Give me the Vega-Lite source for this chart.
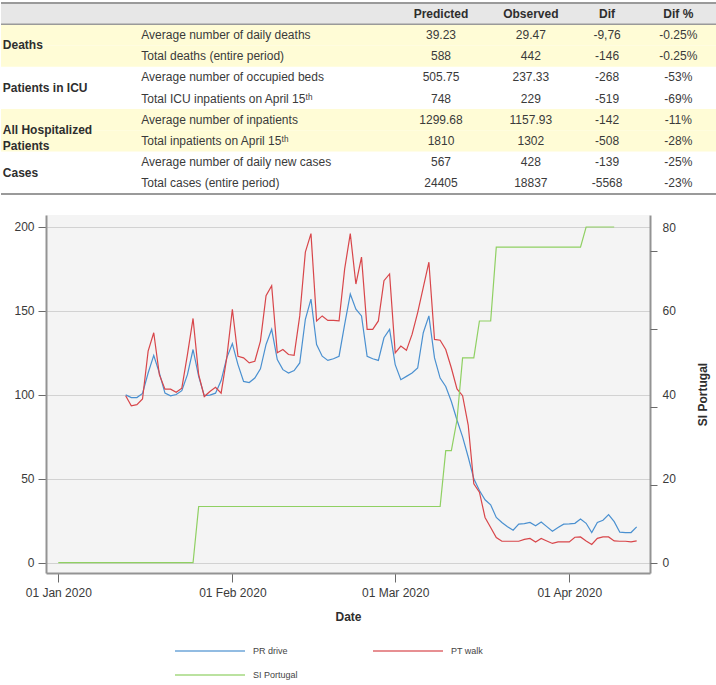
{
  "$schema": "https://vega.github.io/schema/vega-lite/v6.json",
  "padding": 0,
  "spacing": 19,
  "background": "white",
  "config": {
    "font": "Liberation Sans",
    "view": {"stroke": null}
  },
  "resolve": {"scale": {"color": "independent"}, "legend": {"color": "independent"}},
  "datasets": {
    "table": [
      {"row": 1, "group": "Deaths", "desc": "Average number of daily deaths", "Predicted": "39.23", "Observed": "29.47", "Dif": "-9,76", "Dif %": "-0.25%"},
      {"row": 2, "group": "Deaths", "desc": "Total deaths (entire period)", "Predicted": "588", "Observed": "442", "Dif": "-146", "Dif %": "-0.25%"},
      {"row": 3, "group": "Patients in ICU", "desc": "Average number of occupied beds", "Predicted": "505.75", "Observed": "237.33", "Dif": "-268", "Dif %": "-53%"},
      {"row": 4, "group": "Patients in ICU", "desc": "Total ICU inpatients on April 15ᵗʰ", "Predicted": "748", "Observed": "229", "Dif": "-519", "Dif %": "-69%"},
      {"row": 5, "group": "All Hospitalized Patients", "desc": "Average number of inpatients", "Predicted": "1299.68", "Observed": "1157.93", "Dif": "-142", "Dif %": "-11%"},
      {"row": 6, "group": "All Hospitalized Patients", "desc": "Total inpatients on April 15ᵗʰ", "Predicted": "1810", "Observed": "1302", "Dif": "-508", "Dif %": "-28%"},
      {"row": 7, "group": "Cases", "desc": "Average number of daily new cases", "Predicted": "567", "Observed": "428", "Dif": "-139", "Dif %": "-25%"},
      {"row": 8, "group": "Cases", "desc": "Total cases (entire period)", "Predicted": "24405", "Observed": "18837", "Dif": "-5568", "Dif %": "-23%"}
    ],
    "groups": [
      {"row": 1, "label": "Deaths"},
      {"row": 3, "label": "Patients in ICU"},
      {"row": 5, "label": "All Hospitalized\nPatients"},
      {"row": 7, "label": "Cases"}
    ],
    "headers": [
      {"col": "Predicted"}, {"col": "Observed"}, {"col": "Dif"}, {"col": "Dif %"}
    ],
    "mobility": [
      {"date": "2020-01-13", "PR drive": 100, "PT walk": 99.5},
      {"date": "2020-01-14", "PR drive": 98.4, "PT walk": 93.5},
      {"date": "2020-01-15", "PR drive": 98.4, "PT walk": 94.2},
      {"date": "2020-01-16", "PR drive": 100.8, "PT walk": 97.5},
      {"date": "2020-01-17", "PR drive": 113, "PT walk": 126},
      {"date": "2020-01-18", "PR drive": 123.5, "PT walk": 137},
      {"date": "2020-01-19", "PR drive": 113, "PT walk": 112},
      {"date": "2020-01-20", "PR drive": 101, "PT walk": 103.4},
      {"date": "2020-01-21", "PR drive": 99.4, "PT walk": 103.4},
      {"date": "2020-01-22", "PR drive": 100.2, "PT walk": 101.5},
      {"date": "2020-01-23", "PR drive": 102.5, "PT walk": 104},
      {"date": "2020-01-24", "PR drive": 112, "PT walk": 124},
      {"date": "2020-01-25", "PR drive": 127, "PT walk": 145.5},
      {"date": "2020-01-26", "PR drive": 111, "PT walk": 112},
      {"date": "2020-01-27", "PR drive": 99.5, "PT walk": 99},
      {"date": "2020-01-28", "PR drive": 99.8, "PT walk": 102},
      {"date": "2020-01-29", "PR drive": 101, "PT walk": 104.5},
      {"date": "2020-01-30", "PR drive": 108.5, "PT walk": 101},
      {"date": "2020-01-31", "PR drive": 122, "PT walk": 122},
      {"date": "2020-02-01", "PR drive": 130.5, "PT walk": 151},
      {"date": "2020-02-02", "PR drive": 118, "PT walk": 123},
      {"date": "2020-02-03", "PR drive": 108, "PT walk": 122},
      {"date": "2020-02-04", "PR drive": 107.3, "PT walk": 119},
      {"date": "2020-02-05", "PR drive": 110, "PT walk": 120},
      {"date": "2020-02-06", "PR drive": 115.5, "PT walk": 132},
      {"date": "2020-02-07", "PR drive": 130, "PT walk": 159},
      {"date": "2020-02-08", "PR drive": 139, "PT walk": 165},
      {"date": "2020-02-09", "PR drive": 121, "PT walk": 125},
      {"date": "2020-02-10", "PR drive": 115, "PT walk": 127},
      {"date": "2020-02-11", "PR drive": 113, "PT walk": 124},
      {"date": "2020-02-12", "PR drive": 114.5, "PT walk": 123.5},
      {"date": "2020-02-13", "PR drive": 119, "PT walk": 147},
      {"date": "2020-02-14", "PR drive": 145, "PT walk": 185},
      {"date": "2020-02-15", "PR drive": 157, "PT walk": 196},
      {"date": "2020-02-16", "PR drive": 130, "PT walk": 144},
      {"date": "2020-02-17", "PR drive": 123, "PT walk": 147},
      {"date": "2020-02-18", "PR drive": 120.5, "PT walk": 144.3},
      {"date": "2020-02-19", "PR drive": 121.5, "PT walk": 144.3},
      {"date": "2020-02-20", "PR drive": 123, "PT walk": 144},
      {"date": "2020-02-21", "PR drive": 142, "PT walk": 175},
      {"date": "2020-02-22", "PR drive": 160, "PT walk": 196},
      {"date": "2020-02-23", "PR drive": 151, "PT walk": 166},
      {"date": "2020-02-24", "PR drive": 147, "PT walk": 182},
      {"date": "2020-02-25", "PR drive": 123, "PT walk": 139},
      {"date": "2020-02-26", "PR drive": 121.5, "PT walk": 139},
      {"date": "2020-02-27", "PR drive": 120.5, "PT walk": 144},
      {"date": "2020-02-28", "PR drive": 134, "PT walk": 168},
      {"date": "2020-02-29", "PR drive": 139, "PT walk": 172},
      {"date": "2020-03-01", "PR drive": 118, "PT walk": 125},
      {"date": "2020-03-02", "PR drive": 109, "PT walk": 129},
      {"date": "2020-03-03", "PR drive": 111, "PT walk": 126.5},
      {"date": "2020-03-04", "PR drive": 113, "PT walk": 136},
      {"date": "2020-03-05", "PR drive": 116, "PT walk": 149},
      {"date": "2020-03-06", "PR drive": 137, "PT walk": 164},
      {"date": "2020-03-07", "PR drive": 147, "PT walk": 179},
      {"date": "2020-03-08", "PR drive": 122, "PT walk": 133},
      {"date": "2020-03-09", "PR drive": 110, "PT walk": 132.5},
      {"date": "2020-03-10", "PR drive": 105, "PT walk": 127},
      {"date": "2020-03-11", "PR drive": 96, "PT walk": 116},
      {"date": "2020-03-12", "PR drive": 85, "PT walk": 103.5},
      {"date": "2020-03-13", "PR drive": 75, "PT walk": 99.5},
      {"date": "2020-03-14", "PR drive": 63, "PT walk": 82},
      {"date": "2020-03-15", "PR drive": 50, "PT walk": 47},
      {"date": "2020-03-16", "PR drive": 43, "PT walk": 42},
      {"date": "2020-03-17", "PR drive": 37.5, "PT walk": 27},
      {"date": "2020-03-18", "PR drive": 34.5, "PT walk": 21},
      {"date": "2020-03-19", "PR drive": 27, "PT walk": 15},
      {"date": "2020-03-20", "PR drive": 24, "PT walk": 12.8},
      {"date": "2020-03-21", "PR drive": 21.5, "PT walk": 12.8},
      {"date": "2020-03-22", "PR drive": 19.4, "PT walk": 12.8},
      {"date": "2020-03-23", "PR drive": 23, "PT walk": 12.8},
      {"date": "2020-03-24", "PR drive": 23.3, "PT walk": 13.9},
      {"date": "2020-03-25", "PR drive": 24, "PT walk": 14.5},
      {"date": "2020-03-26", "PR drive": 22, "PT walk": 12.4},
      {"date": "2020-03-27", "PR drive": 24.3, "PT walk": 14.5},
      {"date": "2020-03-28", "PR drive": 21.5, "PT walk": 13},
      {"date": "2020-03-29", "PR drive": 18.8, "PT walk": 11.5},
      {"date": "2020-03-30", "PR drive": 21, "PT walk": 12.4},
      {"date": "2020-03-31", "PR drive": 23, "PT walk": 12.4},
      {"date": "2020-04-01", "PR drive": 23.2, "PT walk": 12.4},
      {"date": "2020-04-02", "PR drive": 23.5, "PT walk": 15.2},
      {"date": "2020-04-03", "PR drive": 26, "PT walk": 15.4},
      {"date": "2020-04-04", "PR drive": 23.5, "PT walk": 13},
      {"date": "2020-04-05", "PR drive": 18, "PT walk": 10.9},
      {"date": "2020-04-06", "PR drive": 24, "PT walk": 14.5},
      {"date": "2020-04-07", "PR drive": 25.3, "PT walk": 15.4},
      {"date": "2020-04-08", "PR drive": 28.7, "PT walk": 15.4},
      {"date": "2020-04-09", "PR drive": 24.5, "PT walk": 13},
      {"date": "2020-04-10", "PR drive": 18.2, "PT walk": 12.8},
      {"date": "2020-04-11", "PR drive": 18, "PT walk": 12.8},
      {"date": "2020-04-12", "PR drive": 18, "PT walk": 12.4},
      {"date": "2020-04-13", "PR drive": 21.4, "PT walk": 13}
    ],
    "si": [
      {"date": "2020-01-01", "SI Portugal": 0},
      {"date": "2020-01-02", "SI Portugal": 0},
      {"date": "2020-01-03", "SI Portugal": 0},
      {"date": "2020-01-04", "SI Portugal": 0},
      {"date": "2020-01-05", "SI Portugal": 0},
      {"date": "2020-01-06", "SI Portugal": 0},
      {"date": "2020-01-07", "SI Portugal": 0},
      {"date": "2020-01-08", "SI Portugal": 0},
      {"date": "2020-01-09", "SI Portugal": 0},
      {"date": "2020-01-10", "SI Portugal": 0},
      {"date": "2020-01-11", "SI Portugal": 0},
      {"date": "2020-01-12", "SI Portugal": 0},
      {"date": "2020-01-13", "SI Portugal": 0},
      {"date": "2020-01-14", "SI Portugal": 0},
      {"date": "2020-01-15", "SI Portugal": 0},
      {"date": "2020-01-16", "SI Portugal": 0},
      {"date": "2020-01-17", "SI Portugal": 0},
      {"date": "2020-01-18", "SI Portugal": 0},
      {"date": "2020-01-19", "SI Portugal": 0},
      {"date": "2020-01-20", "SI Portugal": 0},
      {"date": "2020-01-21", "SI Portugal": 0},
      {"date": "2020-01-22", "SI Portugal": 0},
      {"date": "2020-01-23", "SI Portugal": 0},
      {"date": "2020-01-24", "SI Portugal": 0},
      {"date": "2020-01-25", "SI Portugal": 0},
      {"date": "2020-01-26", "SI Portugal": 13.4},
      {"date": "2020-01-27", "SI Portugal": 13.4},
      {"date": "2020-01-28", "SI Portugal": 13.4},
      {"date": "2020-01-29", "SI Portugal": 13.4},
      {"date": "2020-01-30", "SI Portugal": 13.4},
      {"date": "2020-01-31", "SI Portugal": 13.4},
      {"date": "2020-02-01", "SI Portugal": 13.4},
      {"date": "2020-02-02", "SI Portugal": 13.4},
      {"date": "2020-02-03", "SI Portugal": 13.4},
      {"date": "2020-02-04", "SI Portugal": 13.4},
      {"date": "2020-02-05", "SI Portugal": 13.4},
      {"date": "2020-02-06", "SI Portugal": 13.4},
      {"date": "2020-02-07", "SI Portugal": 13.4},
      {"date": "2020-02-08", "SI Portugal": 13.4},
      {"date": "2020-02-09", "SI Portugal": 13.4},
      {"date": "2020-02-10", "SI Portugal": 13.4},
      {"date": "2020-02-11", "SI Portugal": 13.4},
      {"date": "2020-02-12", "SI Portugal": 13.4},
      {"date": "2020-02-13", "SI Portugal": 13.4},
      {"date": "2020-02-14", "SI Portugal": 13.4},
      {"date": "2020-02-15", "SI Portugal": 13.4},
      {"date": "2020-02-16", "SI Portugal": 13.4},
      {"date": "2020-02-17", "SI Portugal": 13.4},
      {"date": "2020-02-18", "SI Portugal": 13.4},
      {"date": "2020-02-19", "SI Portugal": 13.4},
      {"date": "2020-02-20", "SI Portugal": 13.4},
      {"date": "2020-02-21", "SI Portugal": 13.4},
      {"date": "2020-02-22", "SI Portugal": 13.4},
      {"date": "2020-02-23", "SI Portugal": 13.4},
      {"date": "2020-02-24", "SI Portugal": 13.4},
      {"date": "2020-02-25", "SI Portugal": 13.4},
      {"date": "2020-02-26", "SI Portugal": 13.4},
      {"date": "2020-02-27", "SI Portugal": 13.4},
      {"date": "2020-02-28", "SI Portugal": 13.4},
      {"date": "2020-02-29", "SI Portugal": 13.4},
      {"date": "2020-03-01", "SI Portugal": 13.4},
      {"date": "2020-03-02", "SI Portugal": 13.4},
      {"date": "2020-03-03", "SI Portugal": 13.4},
      {"date": "2020-03-04", "SI Portugal": 13.4},
      {"date": "2020-03-05", "SI Portugal": 13.4},
      {"date": "2020-03-06", "SI Portugal": 13.4},
      {"date": "2020-03-07", "SI Portugal": 13.4},
      {"date": "2020-03-08", "SI Portugal": 13.4},
      {"date": "2020-03-09", "SI Portugal": 13.4},
      {"date": "2020-03-10", "SI Portugal": 26.7},
      {"date": "2020-03-11", "SI Portugal": 26.7},
      {"date": "2020-03-12", "SI Portugal": 34},
      {"date": "2020-03-13", "SI Portugal": 48.8},
      {"date": "2020-03-14", "SI Portugal": 48.8},
      {"date": "2020-03-15", "SI Portugal": 48.8},
      {"date": "2020-03-16", "SI Portugal": 57.6},
      {"date": "2020-03-17", "SI Portugal": 57.6},
      {"date": "2020-03-18", "SI Portugal": 57.6},
      {"date": "2020-03-19", "SI Portugal": 75.2},
      {"date": "2020-03-20", "SI Portugal": 75.2},
      {"date": "2020-03-21", "SI Portugal": 75.2},
      {"date": "2020-03-22", "SI Portugal": 75.2},
      {"date": "2020-03-23", "SI Portugal": 75.2},
      {"date": "2020-03-24", "SI Portugal": 75.2},
      {"date": "2020-03-25", "SI Portugal": 75.2},
      {"date": "2020-03-26", "SI Portugal": 75.2},
      {"date": "2020-03-27", "SI Portugal": 75.2},
      {"date": "2020-03-28", "SI Portugal": 75.2},
      {"date": "2020-03-29", "SI Portugal": 75.2},
      {"date": "2020-03-30", "SI Portugal": 75.2},
      {"date": "2020-03-31", "SI Portugal": 75.2},
      {"date": "2020-04-01", "SI Portugal": 75.2},
      {"date": "2020-04-02", "SI Portugal": 75.2},
      {"date": "2020-04-03", "SI Portugal": 75.2},
      {"date": "2020-04-04", "SI Portugal": 80},
      {"date": "2020-04-05", "SI Portugal": 80},
      {"date": "2020-04-06", "SI Portugal": 80},
      {"date": "2020-04-07", "SI Portugal": 80},
      {"date": "2020-04-08", "SI Portugal": 80},
      {"date": "2020-04-09", "SI Portugal": 80}
    ]
  },
  "vconcat": [
    {
      "width": 671,
      "height": 196,
      "data": {"name": "table"},
      "layer": [
        {
          "transform": [{"filter": {"field": "group", "oneOf": ["Deaths", "All Hospitalized Patients"]}}],
          "mark": {"type": "rect", "color": "#fffcd6"},
          "encoding": {
            "x": {"datum": 0, "type": "quantitative", "scale": {"domain": [0, 100], "range": [-45, 671]}, "axis": null},
            "x2": {"datum": 100},
            "y": {"field": "row", "type": "ordinal", "scale": {"domain": [0, 1, 2, 3, 4, 5, 6, 7, 8], "range": [3, 194], "paddingInner": 0, "paddingOuter": 0}, "axis": null}
          }
        },
        {
          "data": {"name": "headers"},
          "transform": [{"filter": "datum.col === 'Predicted'"}],
          "mark": {"type": "rect", "color": "#e7e7e7"},
          "encoding": {
            "x": {"datum": 0, "type": "quantitative", "axis": null},
            "x2": {"datum": 100},
            "y": {"datum": 0, "type": "ordinal", "axis": null}
          }
        },
        {
          "data": {"name": "headers"},
          "transform": [{"filter": "datum.col === 'Predicted'"}],
          "mark": {"type": "rule", "color": "#9a9a9a", "strokeWidth": 2},
          "encoding": {
            "x": {"datum": 0, "type": "quantitative", "axis": null},
            "x2": {"datum": 100},
            "y": {"datum": 0, "type": "ordinal", "bandPosition": 0, "axis": null}
          }
        },
        {
          "data": {"name": "headers"},
          "transform": [{"filter": "datum.col === 'Predicted'"}],
          "mark": {"type": "rule", "color": "#9a9a9a", "strokeWidth": 1.5},
          "encoding": {
            "x": {"datum": 0, "type": "quantitative", "axis": null},
            "x2": {"datum": 100},
            "y": {"datum": 1, "type": "ordinal", "bandPosition": 0, "axis": null}
          }
        },
        {
          "data": {"name": "headers"},
          "transform": [{"filter": "datum.col === 'Predicted'"}],
          "mark": {"type": "rule", "color": "#9a9a9a", "strokeWidth": 2},
          "encoding": {
            "x": {"datum": 0, "type": "quantitative", "axis": null},
            "x2": {"datum": 100},
            "y": {"datum": 8, "type": "ordinal", "bandPosition": 1, "axis": null}
          }
        },
        {
          "data": {"name": "groups"},
          "mark": {"type": "text", "align": "left", "fontWeight": "bold", "fontSize": 12, "color": "#2e2e2e", "lineBreak": "\n", "lineHeight": 16},
          "encoding": {
            "x": {"datum": 0.25, "type": "quantitative", "axis": null},
            "y": {"field": "row", "type": "ordinal", "bandPosition": 1, "axis": null},
            "text": {"field": "label"}
          }
        },
        {
          "mark": {"type": "text", "align": "left", "fontSize": 12, "color": "#3a3a3a"},
          "encoding": {
            "x": {"datum": 19.6, "type": "quantitative", "axis": null},
            "y": {"field": "row", "type": "ordinal", "axis": null},
            "text": {"field": "desc"}
          }
        },
        {
          "mark": {"type": "text", "fontSize": 12, "color": "#3a3a3a"},
          "encoding": {
            "x": {"datum": 61.45, "type": "quantitative", "axis": null},
            "y": {"field": "row", "type": "ordinal", "axis": null},
            "text": {"field": "Predicted"}
          }
        },
        {
          "mark": {"type": "text", "fontSize": 12, "color": "#3a3a3a"},
          "encoding": {
            "x": {"datum": 74.0, "type": "quantitative", "axis": null},
            "y": {"field": "row", "type": "ordinal", "axis": null},
            "text": {"field": "Observed"}
          }
        },
        {
          "mark": {"type": "text", "fontSize": 12, "color": "#3a3a3a"},
          "encoding": {
            "x": {"datum": 84.65, "type": "quantitative", "axis": null},
            "y": {"field": "row", "type": "ordinal", "axis": null},
            "text": {"field": "Dif"}
          }
        },
        {
          "mark": {"type": "text", "fontSize": 12, "color": "#3a3a3a"},
          "encoding": {
            "x": {"datum": 94.6, "type": "quantitative", "axis": null},
            "y": {"field": "row", "type": "ordinal", "axis": null},
            "text": {"field": "Dif %"}
          }
        },
        {
          "data": {"name": "headers"},
          "transform": [{"filter": "datum.col === 'Predicted'"}],
          "mark": {"type": "text", "fontSize": 12, "fontWeight": "bold", "color": "#2e2e2e"},
          "encoding": {
            "x": {"datum": 61.45, "type": "quantitative", "axis": null},
            "y": {"datum": 0, "type": "ordinal", "axis": null},
            "text": {"field": "col"}
          }
        },
        {
          "data": {"name": "headers"},
          "transform": [{"filter": "datum.col === 'Observed'"}],
          "mark": {"type": "text", "fontSize": 12, "fontWeight": "bold", "color": "#2e2e2e"},
          "encoding": {
            "x": {"datum": 74.0, "type": "quantitative", "axis": null},
            "y": {"datum": 0, "type": "ordinal", "axis": null},
            "text": {"field": "col"}
          }
        },
        {
          "data": {"name": "headers"},
          "transform": [{"filter": "datum.col === 'Dif'"}],
          "mark": {"type": "text", "fontSize": 12, "fontWeight": "bold", "color": "#2e2e2e"},
          "encoding": {
            "x": {"datum": 84.65, "type": "quantitative", "axis": null},
            "y": {"datum": 0, "type": "ordinal", "axis": null},
            "text": {"field": "col"}
          }
        },
        {
          "data": {"name": "headers"},
          "transform": [{"filter": "datum.col === 'Dif %'"}],
          "mark": {"type": "text", "fontSize": 12, "fontWeight": "bold", "color": "#2e2e2e"},
          "encoding": {
            "x": {"datum": 94.6, "type": "quantitative", "axis": null},
            "y": {"datum": 0, "type": "ordinal", "axis": null},
            "text": {"field": "col"}
          }
        }
      ]
    },
    {
      "width": 604,
      "height": 358,
      "view": {"fill": "#f4f4f4", "stroke": null},
      "resolve": {"scale": {"y": "independent"}, "axis": {"y": "independent"}},
      "layer": [
        {
          "data": {"name": "mobility"},
          "transform": [{"fold": ["PR drive", "PT walk"], "as": ["series", "value"]}],
          "mark": {"type": "line", "strokeWidth": 1.2},
          "encoding": {
            "x": {
              "field": "date", "type": "temporal",
              "scale": {
                "type": "utc",
                "domain": [
                  {"year": 2019, "month": 12, "date": 29, "hours": 19, "minutes": 30, "utc": true},
                  {"year": 2020, "month": 4, "date": 15, "hours": 9, "utc": true}
                ]
              },
              "axis": {
                "values": [
                  {"year": 2020, "month": 1, "date": 1, "utc": true},
                  {"year": 2020, "month": 2, "date": 1, "utc": true},
                  {"year": 2020, "month": 3, "date": 1, "utc": true},
                  {"year": 2020, "month": 4, "date": 1, "utc": true}
                ],
                "format": "%d %b %Y",
                "grid": false,
                "tickSize": 9,
                "tickColor": "#6a6a6a",
                "domainColor": "#939393",
                "domainWidth": 2,
                "labelPadding": 5,
                "labelFontSize": 12,
                "labelColor": "#3a3a3a",
                "title": "Date",
                "titleFontSize": 12,
                "titleFontWeight": "bold",
                "titleColor": "#2e2e2e",
                "titlePadding": 13
              }
            },
            "y": {
              "field": "value", "type": "quantitative",
              "scale": {"domain": [-6.1, 207.1], "nice": false, "zero": false},
              "axis": {
                "orient": "left",
                "values": [0, 50, 100, 150, 200],
                "grid": true,
                "gridColor": "#d2d2d2",
                "tickSize": 8,
                "tickColor": "#6a6a6a",
                "domainColor": "#939393",
                "domainWidth": 2,
                "labelPadding": 4,
                "labelFontSize": 12,
                "labelColor": "#3a3a3a",
                "title": null,
                "minExtent": 45
              }
            },
            "color": {
              "field": "series", "type": "nominal",
              "scale": {"domain": ["PR drive", "PT walk", "SI Portugal"], "range": ["#4a90d0", "#d8464a", "#8fd062"]},
              "legend": {
                "orient": "none",
                "legendX": 153,
                "legendY": 425,
                "direction": "horizontal",
                "columns": 2,
                "title": null,
                "symbolType": "M-3.5,0L3.5,0",
                "symbolSize": 400,
                "symbolStrokeWidth": 2,
                "symbolOpacity": 0.6,
                "labelFontSize": 9,
                "labelColor": "#444444",
                "labelOffset": 32,
                "columnPadding": 71,
                "rowPadding": 8,
                "padding": 0
              }
            }
          }
        },
        {
          "data": {"name": "si"},
          "transform": [{"fold": ["SI Portugal"], "as": ["series", "value"]}],
          "mark": {"type": "line", "strokeWidth": 1.2},
          "encoding": {
            "x": {"field": "date", "type": "temporal"},
            "y": {
              "field": "value", "type": "quantitative",
              "scale": {"domain": [-2.45, 82.86], "nice": false, "zero": false},
              "axis": {
                "orient": "right",
                "values": [0, 20, 40, 60, 80],
                "ticks": false,
                "grid": false,
                "domainColor": "#939393",
                "domainWidth": 2,
                "labelPadding": 12,
                "labelFontSize": 12,
                "labelColor": "#3a3a3a",
                "title": "SI Portugal",
                "titleAngle": 270,
                "titleFontSize": 12,
                "titleFontWeight": "bold",
                "titleColor": "#2e2e2e",
                "titlePadding": 34
              }
            },
            "color": {
              "field": "series", "type": "nominal",
              "scale": {"domain": ["PR drive", "PT walk", "SI Portugal"], "range": ["#4a90d0", "#d8464a", "#8fd062"]}
            }
          }
        },
        {
          "data": {"name": "si"},
          "mark": {"type": "line", "strokeOpacity": 0},
          "encoding": {
            "x": {"field": "date", "type": "temporal"},
            "y": {
              "field": "SI Portugal", "type": "quantitative",
              "scale": {"domain": [-2.634, 89.1], "nice": false, "zero": false},
              "axis": {
                "orient": "right",
                "values": [0, 20, 40, 60, 80],
                "labels": false,
                "domain": false,
                "grid": false,
                "ticks": true,
                "tickSize": 7,
                "tickColor": "#6a6a6a",
                "title": null
              }
            }
          }
        }
      ]
    }
  ]
}
